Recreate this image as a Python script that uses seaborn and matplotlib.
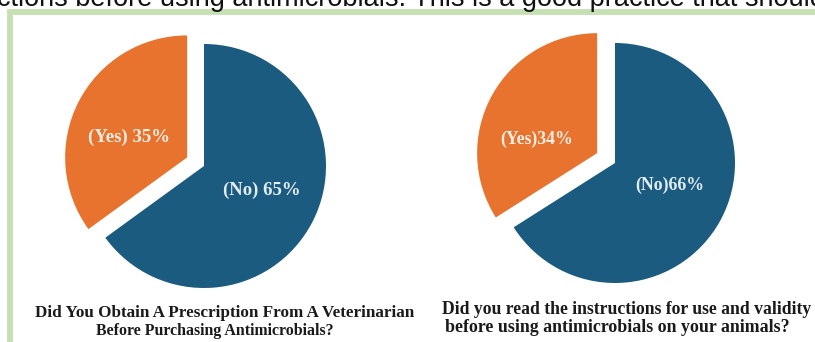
import matplotlib
matplotlib.use("Agg")
import matplotlib.pyplot as plt
import seaborn as sns
from matplotlib.patches import Rectangle

sns.set_theme(style="white")
plt.rcParams["font.family"] = ["Liberation Serif", "DejaVu Serif"]

# ---- data ----
categories = ["Yes", "No"]
prescription_pct = [35, 65]
instructions_pct = [34, 66]

title_prescription = ["Did You Obtain A Prescription From A Veterinarian",
                      "Before Purchasing Antimicrobials?"]
title_instructions = ["Did you read the instructions for use and validity",
                      "before using antimicrobials on your animals?"]
running_text = "ctions before using antimicrobials. This is a good practice that should"

# ---- style ----
palette = ["#e8732e", "#1b5b80"]
label_colors = ["#fbeee4", "#e3edf4"]
frame_color = "#c6e0b4"

W, H, DPI = 815, 342, 100
fig = plt.figure(figsize=(W / DPI, H / DPI), dpi=DPI)
fig.patch.set_facecolor("white")
renderer = fig.canvas.get_renderer()


def fit_width(t, width_px):
    bb = t.get_window_extent(renderer)
    t.set_fontsize(t.get_fontsize() * width_px / bb.width)


def px_axes(cx, cy, r, span=1.45):
    half = r * span
    ax = fig.add_axes([(cx - half) / W, (H - cy - half) / H, 2 * half / W, 2 * half / H])
    return ax, span


def draw_pie(cx, cy, r, values, explode, sep, label_pos, fs):
    ax, span = px_axes(cx, cy, r)
    wedges, texts, autotexts = ax.pie(
        values, colors=palette, startangle=90, counterclock=True,
        explode=[explode, 0], autopct="%1.0f%%", pctdistance=0.5,
        wedgeprops=dict(linewidth=0),
    )
    for i, t in enumerate(autotexts):
        t.set_text(f"({categories[i]}){sep}{values[i]}%")
        t.set_position(label_pos[i])
        t.set_color(label_colors[i])
        t.set_fontsize(fs)
        t.set_fontweight("bold")
        t.set_ha("center")
        t.set_va("center")
    ax.set_xlim(-span, span)
    ax.set_ylim(-span, span)
    ax.set_aspect("equal")
    ax.axis("off")
    return ax


# green frame running off the right and bottom edges
fig.add_artist(Rectangle((10 / W, -30 / H), (W + 40) / W, (H - 12 + 30) / H,
                         transform=fig.transFigure, fill=False,
                         edgecolor=frame_color, linewidth=4.2))

# clipped line of body text above the frame
top = fig.text(-3 / W, (H - 6) / H, running_text, family=["Liberation Sans", "DejaVu Sans"],
               fontsize=16, color="#111111", va="baseline", ha="left")
fit_width(top, 830)

# pies
draw_pie(204, 166, 122, prescription_pct, 0.155, " ",
         [(-0.615, 0.238), (0.475, -0.197)], 13.5)
draw_pie(615, 163, 120, instructions_pct, 0.17, "",
         [(-0.65, 0.20), (0.458, -0.183)], 12.8)

# captions
captions = [
    (title_prescription[0], 225, 317, 380),
    (title_prescription[1], 215, 335, 236),
    (title_instructions[0], 627, 314, 370),
    (title_instructions[1], 617, 332, 345),
]
for txt, cx, base, width in captions:
    t = fig.text(cx / W, (H - base) / H, txt, ha="center", va="baseline",
                 fontweight="bold", color="#1a1a1a", fontsize=11)
    fit_width(t, width)

fig.savefig("out.png", dpi=DPI, facecolor="white")
